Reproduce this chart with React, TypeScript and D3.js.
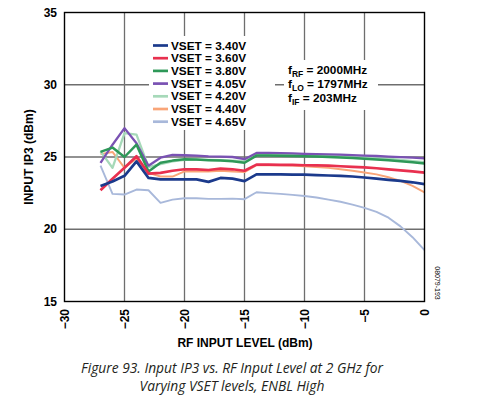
import React from "react";
import * as d3 from "d3";

const rfInput = [-27,-26,-25,-24,-23,-22,-21,-20,-19,-18,-17,-16,-15,-14,-13,-12,-11,-10,-9,-8,-7,-6,-5,-4,-3,-2,-1,0];

const v340 = [23.0,23.3,23.7,24.7,23.55,23.45,23.45,23.45,23.45,23.28,23.55,23.5,23.33,23.8,23.8,23.8,23.78,23.78,23.75,23.72,23.7,23.65,23.58,23.5,23.42,23.35,23.25,23.12];
const v360 = [22.7,23.5,24.25,25.05,23.85,23.9,24.05,24.15,24.15,24.1,24.2,24.15,24.05,24.47,24.47,24.46,24.45,24.43,24.42,24.4,24.36,24.32,24.28,24.22,24.15,24.08,24.0,23.92];
const v380 = [25.35,25.65,25.0,25.85,24.0,24.6,24.75,24.85,24.82,24.78,24.75,24.7,24.6,25.1,25.1,25.08,25.07,25.05,25.03,25.0,24.97,24.93,24.88,24.83,24.77,24.7,24.63,24.55];
const v405 = [24.6,25.85,27.0,25.95,24.4,24.95,25.15,25.12,25.1,25.05,25.02,25.0,24.85,25.28,25.28,25.27,25.25,25.22,25.2,25.18,25.16,25.13,25.1,25.07,25.03,24.99,24.95,24.9];
const v420 = [25.4,24.25,26.65,26.55,24.3,24.5,24.7,24.8,24.82,24.8,24.78,24.75,24.7,25.22,25.22,25.21,25.2,25.18,25.15,25.12,25.08,25.04,25.0,24.94,24.88,24.8,24.72,24.64];
const v440 = [25.2,25.35,24.25,24.9,23.9,23.65,23.65,24.0,24.0,24.0,24.05,24.0,23.95,24.43,24.43,24.42,24.4,24.36,24.3,24.25,24.15,24.05,23.93,23.8,23.6,23.35,23.0,22.55];
const v465 = [24.4,22.45,22.4,22.75,22.7,21.83,22.05,22.15,22.15,22.1,22.1,22.12,22.08,22.56,22.5,22.45,22.38,22.3,22.2,22.05,21.9,21.7,21.48,21.2,20.8,20.2,19.45,18.55];

const seriesLabels = ["VSET = 3.40V","VSET = 3.60V","VSET = 3.80V","VSET = 4.05V","VSET = 4.20V","VSET = 4.40V","VSET = 4.65V"];
const seriesValues = [v340, v360, v380, v405, v420, v440, v465];
const seriesColors = ["#1b3a8c","#e8304f","#2e9858","#7a52b3","#a6d9b9","#f9a578","#a8b8da"];
const seriesWidths = [2.7,2.7,2.5,2.3,2.3,1.9,1.9];

const xTicks = [-30,-25,-20,-15,-10,-5,0];
const yTicks = [15,20,25,30,35];

const W = 494, H = 417;
const L = 64.5, R = 424.5, T = 12.5, B = 301.5;

export default function App() {
  const x = d3.scaleLinear().domain([-30, 0]).range([L, R]);
  const y = d3.scaleLinear().domain([15, 35]).range([B, T]);
  const line = d3.line<number>().x((_, i) => x(rfInput[i])).y((d) => y(d));
  const font = "'Liberation Sans', Arial, sans-serif";
  const order = [6,5,4,3,2,1,0];
  return (
    <svg width={W} height={H} style={{ position: "absolute", left: 0, top: 0, background: "#fff" }}>
      <rect x={0} y={0} width={W} height={H} fill="#fff" />
      {xTicks.filter(t => t > -30 && t < 0).map(t => (
        <line key={"gx" + t} x1={x(t)} x2={x(t)} y1={T} y2={B} stroke="#6e6e6e" strokeWidth={1.3} />
      ))}
      {yTicks.filter(t => t > 15 && t < 35).map(t => (
        <line key={"gy" + t} x1={L} x2={R} y1={y(t)} y2={y(t)} stroke="#6e6e6e" strokeWidth={1.3} />
      ))}
      <rect x={149} y={36} width={126} height={94} fill="#fff" />
      <rect x={284} y={60} width={94} height={50} fill="#fff" />
      {order.map(i => (
        <path key={"s" + i} d={line(seriesValues[i]) || ""} fill="none" stroke={seriesColors[i]} strokeWidth={seriesWidths[i]} strokeLinejoin="round" />
      ))}
      <rect x={L} y={T} width={R - L} height={B - T} fill="none" stroke="#000" strokeWidth={1.4} />
      {yTicks.map(t => (
        <text key={"yt" + t} x={57} y={y(t)} dy="0.35em" textAnchor="end" fontFamily={font} fontWeight="bold" fontSize={12} fill="#000">{t}</text>
      ))}
      {xTicks.map(t => (
        <text key={"xt" + t} transform={`translate(${x(t)},${309}) rotate(-90)`} textAnchor="end" dy="0.35em" fontFamily={font} fontWeight="bold" fontSize={12} fill="#000">{t < 0 ? "\u2212" + Math.abs(t) : String(t)}</text>
      ))}
      <text x={245} y={347} textAnchor="middle" fontFamily={font} fontWeight="bold" fontSize={12} fill="#000">RF INPUT LEVEL (dBm)</text>
      <text transform={`translate(33,157) rotate(-90)`} textAnchor="middle" fontFamily={font} fontWeight="bold" fontSize={12} fill="#000">INPUT IP3 (dBm)</text>
      {seriesLabels.map((lab, i) => (
        <g key={"lg" + i} transform={`translate(153,${45.5 + i * 12.7})`}>
          <line x1={0} x2={15} y1={0} y2={0} stroke={seriesColors[i]} strokeWidth={2.7} />
          <text x={18} y={0} dy="0.35em" fontFamily={font} fontWeight="bold" fontSize={11.8} fill="#000">{lab}</text>
        </g>
      ))}
      <g fontFamily={font} fontWeight="bold" fontSize={11.8} fill="#000">
        <text x={288} y={74}>f<tspan fontSize={8.5} dy={3}>RF</tspan><tspan dy={-3}> = 2000MHz</tspan></text>
        <text x={288} y={88}>f<tspan fontSize={8.5} dy={3}>LO</tspan><tspan dy={-3}> = 1797MHz</tspan></text>
        <text x={288} y={102}>f<tspan fontSize={8.5} dy={3}>IF</tspan><tspan dy={-3}> = 203MHz</tspan></text>
      </g>
      <text transform={`translate(437,283) rotate(90)`} textAnchor="middle" dy="0.35em" fontFamily={font} fontSize={7} fill="#000">08079-193</text>
      <g fontFamily="'Open Sans', sans-serif" fontStyle="italic" fontSize={13.8} fill="#231f20" textAnchor="middle">
        <text x={232} y={373}>Figure 93. Input IP3 vs. RF Input Level at 2 GHz for</text>
        <text x={232} y={391}>Varying VSET levels, ENBL High</text>
      </g>
    </svg>
  );
}
